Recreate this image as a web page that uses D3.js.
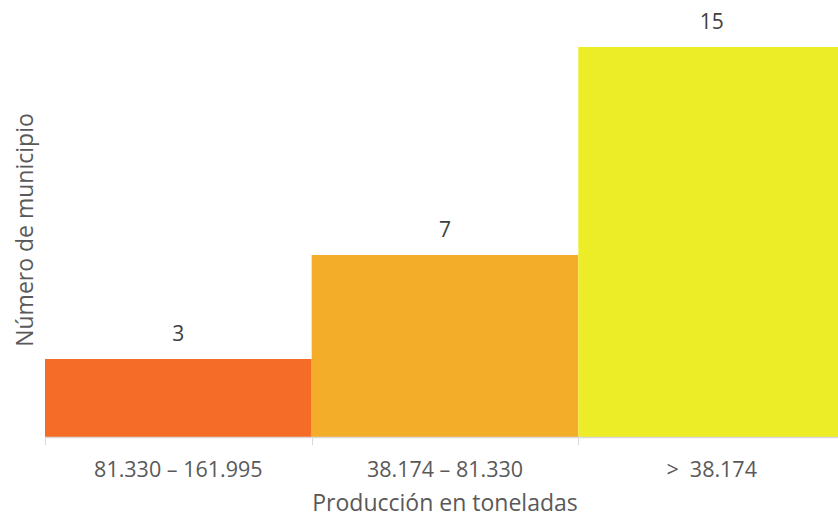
<!DOCTYPE html>
<html>
<head>
<meta charset="utf-8">
<script src="https://cdn.jsdelivr.net/npm/d3@7"></script>
<style>
  body { margin: 0; background: #fff; overflow: hidden; }
  text { font-family: "Open Sans", "Liberation Sans", sans-serif; }
</style>
</head>
<body>
<div class="chart-box"></div>
<script>
var categories = ["81.330 \u2013 161.995", "38.174 \u2013 81.330", ">  38.174"];
var counts = [3, 7, 15];
var colors = ["#F46C27", "#F4AD28", "#EDED27"];

// plot area runs a little past the right edge, as in the original
var margin = {top: 47, left: 45};
var width = 800,
    height = 390;

var svg = d3.select(".chart-box").append("svg")
    .attr("width", 838)
    .attr("height", 518)
    .style("display", "block");

var g = svg.append("g")
    .attr("transform", "translate(" + margin.left + "," + margin.top + ")");

var x = d3.scaleBand()
    .domain(categories)
    .range([0, width])
    .padding(0);

var y = d3.scaleLinear()
    .domain([0, 15])
    .range([height, 0]);

g.selectAll(".bar")
    .data(counts)
  .enter().append("rect")
    .attr("class", "bar")
    .attr("x", function(d, i) { return x(categories[i]); })
    .attr("width", x.bandwidth())
    .attr("y", function(d) { return y(d); })
    .attr("height", function(d) { return height - y(d); })
    .attr("fill", function(d, i) { return colors[i]; });

// value labels
g.selectAll(".lbl")
    .data(counts)
  .enter().append("text")
    .attr("class", "lbl")
    .attr("x", function(d, i) { return x(categories[i]) + x.bandwidth() / 2; })
    .attr("y", function(d) { return y(d) - 18; })
    .attr("text-anchor", "middle")
    .attr("font-size", "21px")
    .attr("fill", "#404040")
    .text(function(d) { return d; });

// x axis line + boundary ticks
var ax = g.append("g").attr("transform", "translate(0," + height + ")");
ax.append("line")
    .attr("x1", 0).attr("x2", width)
    .attr("y1", 0.5).attr("y2", 0.5)
    .attr("stroke", "#d9d9d9").attr("stroke-width", 1.5);
var bounds = categories.map(function(c) { return x(c); }).concat([width]);
ax.selectAll(".tk")
    .data(bounds)
  .enter().append("line")
    .attr("class", "tk")
    .attr("x1", function(d) { return Math.round(d) + 0.5; })
    .attr("x2", function(d) { return Math.round(d) + 0.5; })
    .attr("y1", 0).attr("y2", 8)
    .attr("stroke", "#d9d9d9");

ax.selectAll(".xl")
    .data(categories)
  .enter().append("text")
    .attr("class", "xl")
    .attr("x", function(d) { return x(d) + x.bandwidth() / 2; })
    .attr("y", 40)
    .attr("text-anchor", "middle")
    .attr("font-size", "21.5px")
    .attr("fill", "#595959")
    .attr("xml:space", "preserve")
    .style("white-space", "pre")
    .text(function(d) { return d; });

svg.append("text")
    .attr("x", 445)
    .attr("y", 511)
    .attr("text-anchor", "middle")
    .attr("font-size", "23px")
    .attr("fill", "#595959")
    .text("Producción en toneladas");

svg.append("text")
    .attr("transform", "translate(33,230) rotate(-90)")
    .attr("text-anchor", "middle")
    .attr("font-size", "23px")
    .attr("fill", "#595959")
    .text("Número de municipio");
</script>
</body>
</html>
